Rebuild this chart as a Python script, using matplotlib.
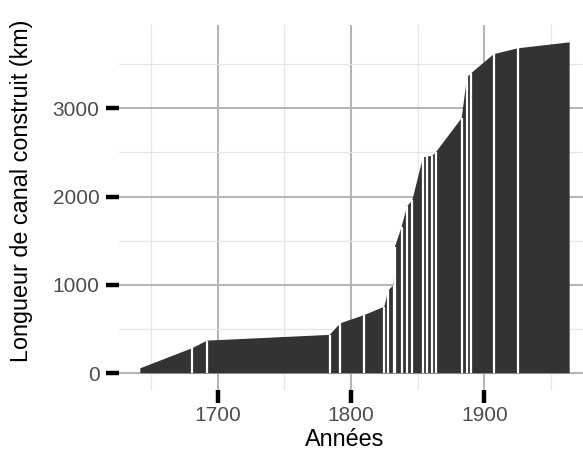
import matplotlib
matplotlib.use("Agg")
import matplotlib.pyplot as plt

# Cumulative canal length (km) by year
years = [1642, 1681, 1692, 1784, 1792, 1810, 1825, 1828, 1832, 1833, 1838, 1842,
         1846, 1854, 1857, 1861, 1864, 1883, 1887, 1890, 1907, 1925, 1964]
lengths = [57, 285, 370, 435, 566, 660, 754, 940, 1000, 1434, 1660, 1890,
           1960, 2445, 2455, 2462, 2509, 2890, 3350, 3396, 3612, 3679, 3747]

x_major = [1700, 1800, 1900]
x_minor = [1650, 1750, 1850, 1950]
y_major = [0, 1000, 2000, 3000]
y_minor = [500, 1500, 2500, 3500]
x_title = "Années"
y_title = "Longueur de canal construit (km)"

plt.rcParams['font.family'] = ['Liberation Sans', 'DejaVu Sans']

W, H = 583, 457
fig = plt.figure(figsize=(W / 100, H / 100), dpi=100)
ax = fig.add_axes([119 / W, (H - 390) / H, (W - 119) / W, (390 - 25) / H])
ax.set_xlim(1626, 1974)
ax.set_ylim(-189, 3943)

# area
ax.fill_between(years, 0, lengths, facecolor='#333333', edgecolor='none',
                linewidth=0, zorder=2)
# white separators at each interior data point
ax.vlines(years[1:-1], 0, lengths[1:-1], colors='white', linewidth=1.6, zorder=3)

# grid
ax.set_xticks(x_major)
ax.set_xticks(x_minor, minor=True)
ax.set_yticks(y_major)
ax.set_yticks(y_minor, minor=True)
ax.grid(which='major', color='#b5b5b5', linewidth=1.45, zorder=0)
ax.grid(which='minor', color='#e6e6e6', linewidth=0.9, zorder=0)
ax.set_axisbelow(True)

for s in ax.spines.values():
    s.set_visible(False)

ax.tick_params(which='major', direction='out', length=9.6, width=3.2,
               color='black', labelcolor='#4d4d4d', labelsize=15)
ax.tick_params(axis='x', which='major', pad=2)
ax.tick_params(axis='y', which='major', pad=4.5)
ax.tick_params(which='minor', length=0, width=0)
ax.set_xticklabels([str(v) for v in x_major])
ax.set_yticklabels([str(v) for v in y_major])

fig.text(345 / W, 1 - 440 / H, x_title, ha='center', va='center',
         fontsize=16.8, color='black')
fig.text(22 / W, 1 - 191 / H, y_title, ha='center', va='center',
         rotation=90, fontsize=16.8, color='black')

fig.savefig('out.png', dpi=100)
